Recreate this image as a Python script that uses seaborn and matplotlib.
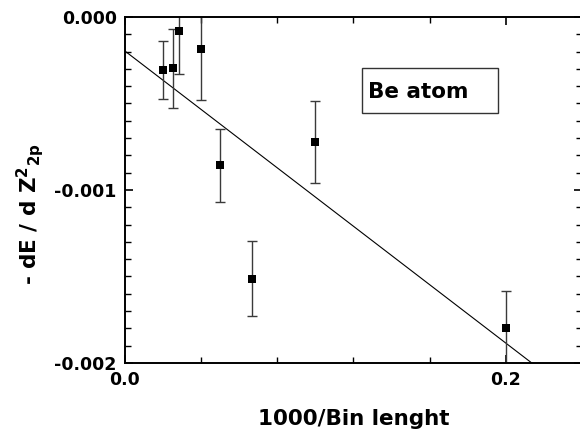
"""Be atom: -dE/dZ^2_2p versus inverse bin length, with linear fit."""

import numpy as np
import matplotlib
matplotlib.use("Agg")
import matplotlib.pyplot as plt
from matplotlib.patches import Rectangle
from matplotlib.ticker import FixedLocator, MultipleLocator, FormatStrFormatter
import seaborn as sns

# data
inv_bin = [0.02, 0.025, 0.0286, 0.04, 0.05, 0.0667, 0.1, 0.2]
slope_val = [-0.000306, -0.000297, -0.0000827, -0.000187, -0.000857, -0.001514, -0.000724, -0.0018]
slope_err = [0.000166, 0.000228, 0.000247, 0.000293, 0.000211, 0.000217, 0.000236, 0.000218]

fit_intercept = -0.000197
fit_slope = -0.00844
fit_x = [0.0, 0.24]

x_ticks = [0.0, 0.2]
y_ticks = [-0.002, -0.001, 0.0]

sns.set_style("ticks")
plt.rcParams["font.family"] = ["DejaVu Sans"]
plt.rcParams["mathtext.fontset"] = "custom"
plt.rcParams["mathtext.bf"] = "DejaVu Sans:bold"
plt.rcParams["mathtext.rm"] = "DejaVu Sans:bold"
plt.rcParams["mathtext.default"] = "bf"
for key in ["text.color", "axes.labelcolor", "xtick.color", "ytick.color",
            "xtick.labelcolor", "ytick.labelcolor"]:
    plt.rcParams[key] = "black"

fig = plt.figure(figsize=(5.8, 4.34), dpi=100)
ax = fig.add_axes([125 / 580, 1 - 363 / 434, 457 / 580, 346 / 434])

fit_y = [fit_intercept + fit_slope * v for v in fit_x]
sns.lineplot(x=fit_x, y=fit_y, ax=ax, color="black", linewidth=0.8)

ax.errorbar(inv_bin, slope_val, yerr=slope_err, fmt="none", ecolor="#3a3a3a",
            elinewidth=1.0, capsize=3.5, capthick=1.0)
sns.scatterplot(x=inv_bin, y=slope_val, ax=ax, marker="s", s=30, color="black",
                edgecolor="black", linewidth=0, zorder=5)

ax.set_xlim(0.0, 0.24)
ax.set_ylim(-0.002, 0.0)

ax.xaxis.set_major_locator(FixedLocator(x_ticks))
ax.xaxis.set_minor_locator(MultipleLocator(0.04))
ax.yaxis.set_major_locator(FixedLocator(y_ticks))
ax.yaxis.set_minor_locator(MultipleLocator(0.0001))
ax.xaxis.set_major_formatter(FormatStrFormatter("%.1f"))
ax.yaxis.set_major_formatter(FormatStrFormatter("%.3f"))

ax.tick_params(which="both", direction="in", top=True, right=True, color="black")
ax.tick_params(which="major", length=6, width=1.2, labelsize=12.5, pad=6)
ax.tick_params(which="minor", length=4, width=1.0)
for lab in ax.get_xticklabels() + ax.get_yticklabels():
    lab.set_fontweight("bold")
    lab.set_color("black")

for side in ax.spines.values():
    side.set_linewidth(1.4)
    side.set_color("black")

ax.set_xlabel("1000/Bin lenght", fontsize=15.5, fontweight="bold", labelpad=14,
              color="black")
fig.text(30 / 580, 1 - 214 / 434, r"- dE / d Z$^{2}$$_{2p}$", rotation=90,
         ha="center", va="center", fontsize=15.5, fontweight="bold", color="black")

# label box in the upper right
ax.add_patch(Rectangle((0.5186, 0.7225), 0.2974, 0.1301, transform=ax.transAxes,
                       fill=False, edgecolor="#333333", linewidth=1.0))
ax.text(0.532, 0.783, "Be atom", transform=ax.transAxes, ha="left", va="center",
        fontsize=15.5, fontweight="bold", color="black")

fig.savefig("out.png", dpi=100)
